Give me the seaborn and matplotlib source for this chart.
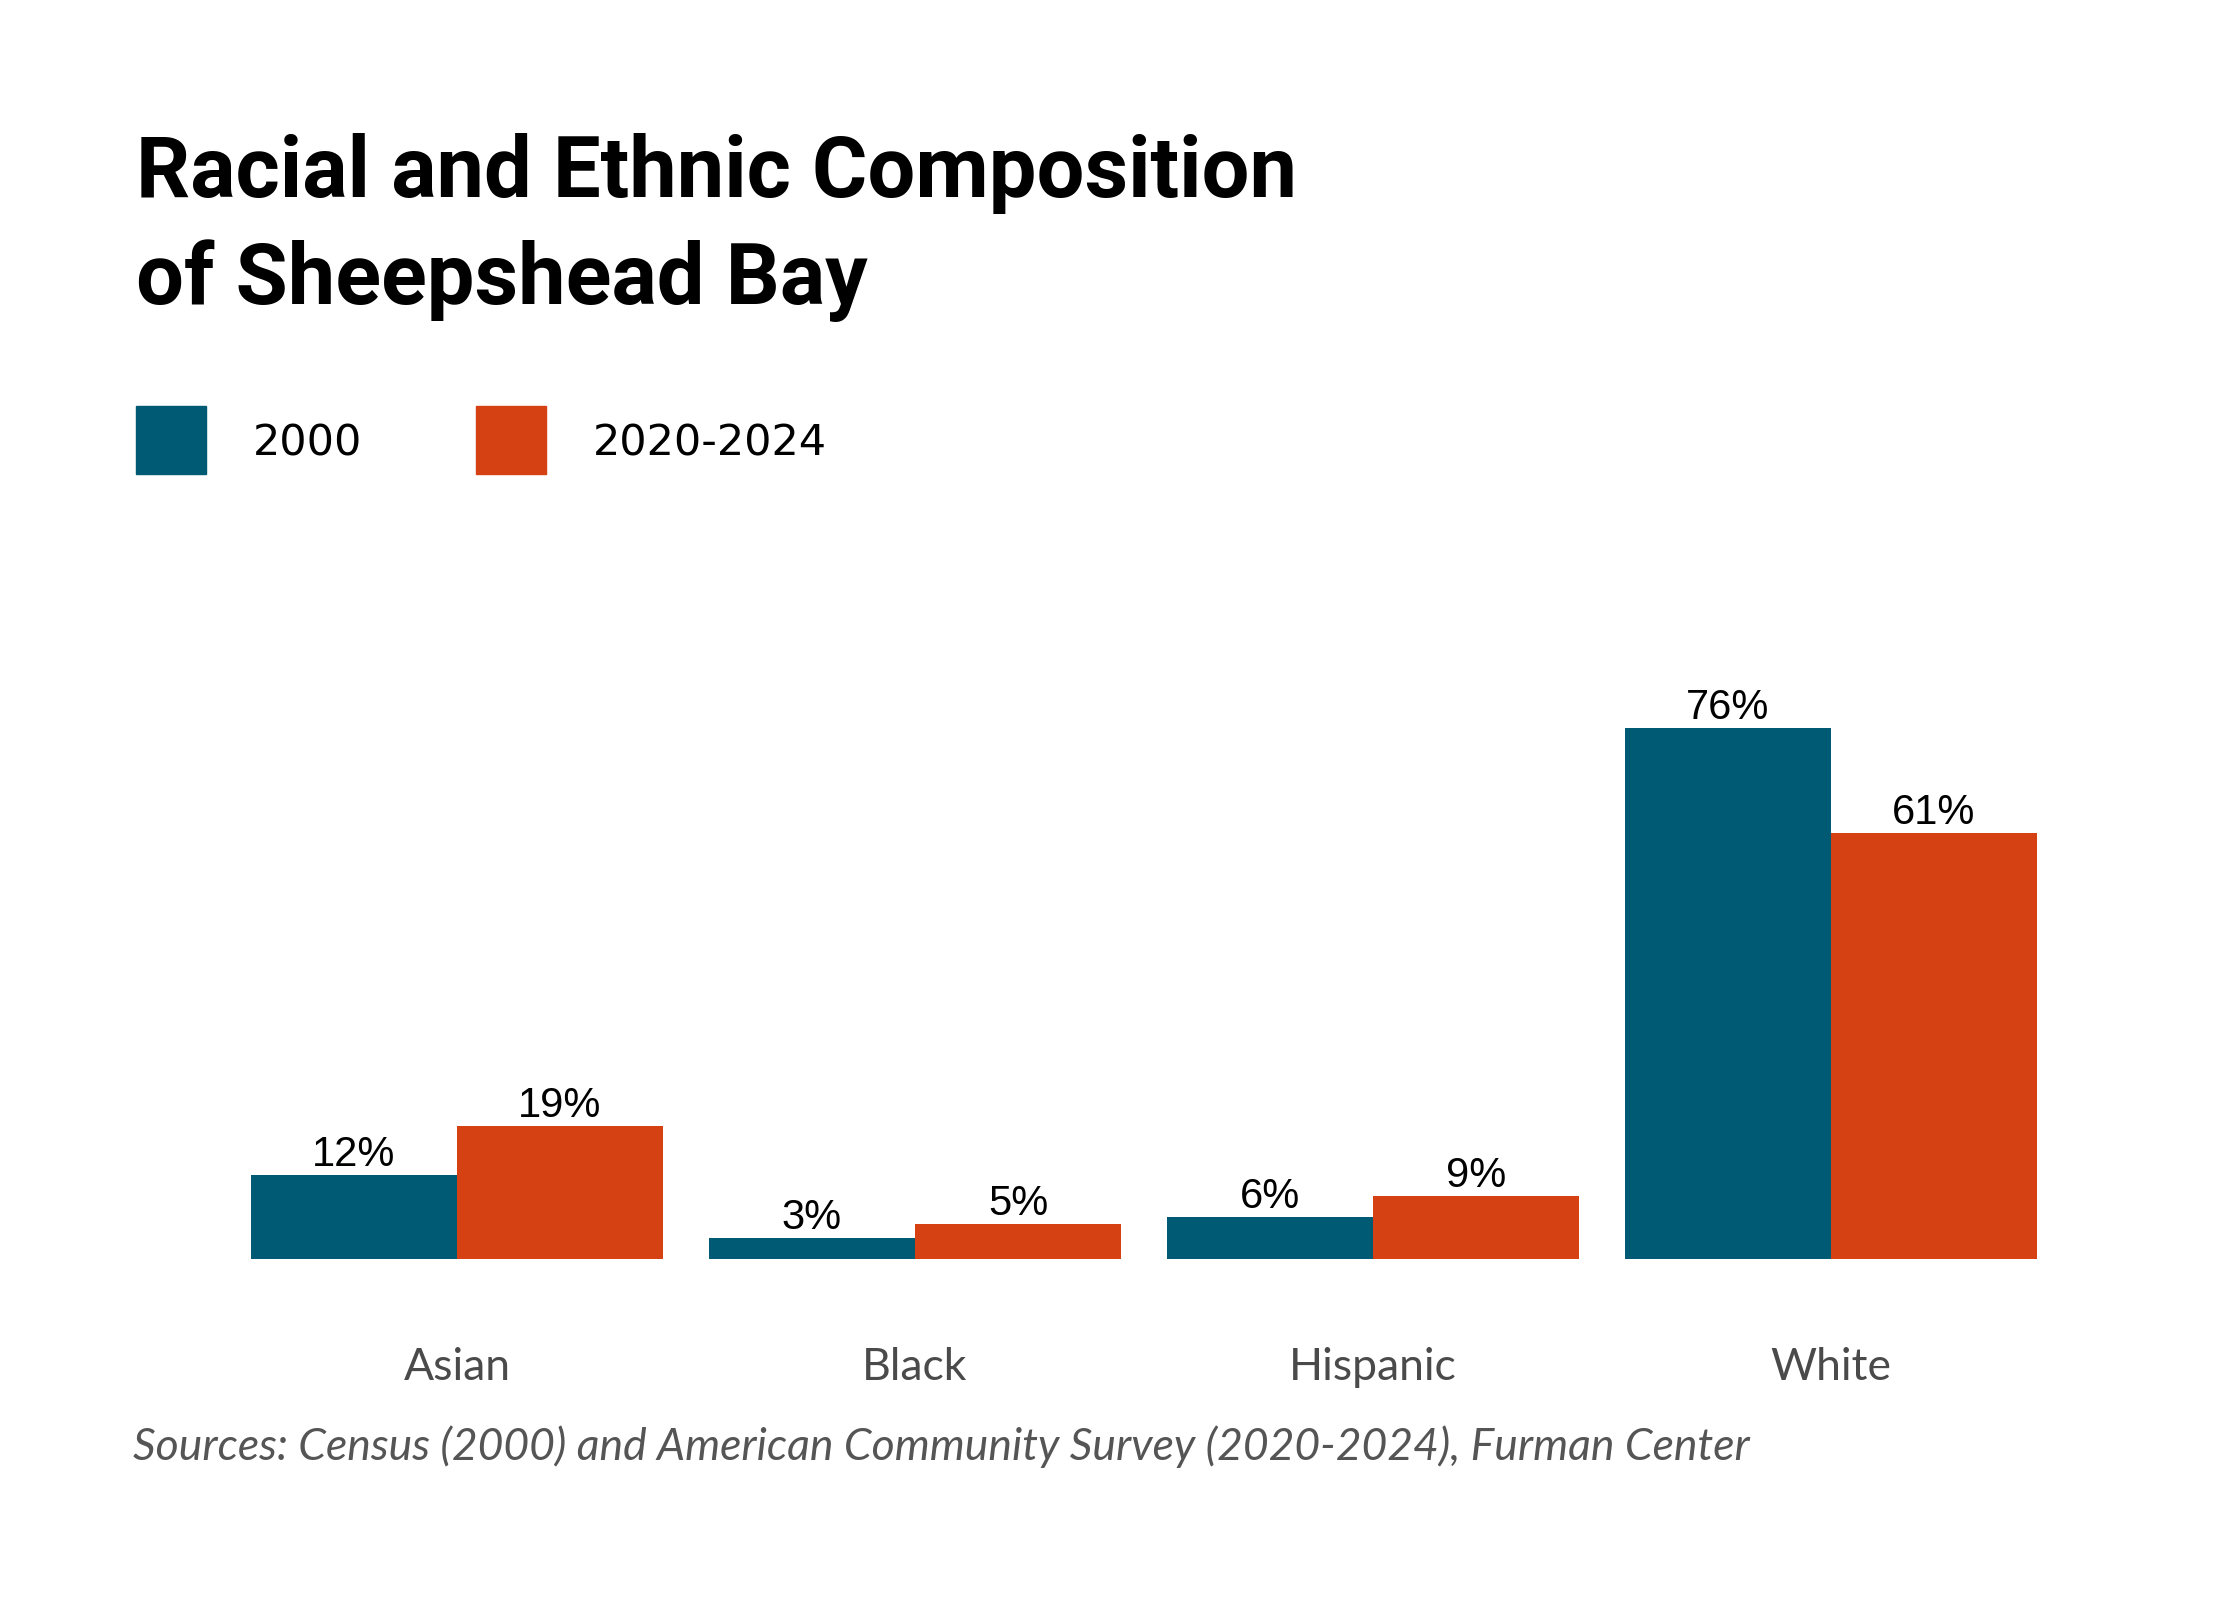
import pandas as pd
import seaborn as sns
import matplotlib.pyplot as plt
from matplotlib.patches import Rectangle

# Data
groups = ['Asian', 'Black', 'Hispanic', 'White']
years = ['2000', '2020-2024']
share_2000 = [12, 3, 6, 76]
share_2020 = [19, 5, 9, 61]
colors = {'2000': '#015a74', '2020-2024': '#d64113'}

title_lines = ['Racial and Ethnic Composition', 'of Sheepshead Bay']
source = 'Sources: Census (2000) and American Community Survey (2020-2024), Furman Center'

df = pd.DataFrame({
    'group': groups * 2,
    'year': [years[0]] * len(groups) + [years[1]] * len(groups),
    'share': share_2000 + share_2020,
})

sns.set_theme(style='white')
plt.rcParams['font.family'] = ['Lato', 'DejaVu Sans']

W, H = 2240, 1600
fig = plt.figure(figsize=(W / 100, H / 100), dpi=100)
fig.patch.set_facecolor('white')
ax = fig.add_axes([228 / W, 1 - 1259 / H, (2060 - 228) / W, 699 / H])

sns.barplot(data=df, x='group', y='share', hue='year', order=groups,
            hue_order=years, palette=colors, width=0.9, gap=0,
            saturation=1, legend=False, linewidth=0, ax=ax)

# Value labels
for cont in ax.containers:
    ax.bar_label(cont, labels=[f'{v:.0f}%' for v in cont.datavalues],
                 padding=0, fontsize=30, family='Liberation Sans', color='black')

ax.set_ylim(0, 100)
ax.set_xlim(-0.5, 3.5)
ax.set_xlabel('')
ax.set_ylabel('')
ax.set_yticks([])
sns.despine(ax=ax, left=True, bottom=True)
ax.tick_params(axis='x', length=0, pad=63, labelsize=32, labelcolor='#4a4a4a')

# Title
for i, line in enumerate(title_lines):
    fig.text(136 / W, 1 - (197 + 107 * i) / H, line, fontsize=61,
             fontweight='bold', family='Roboto', color='black', va='baseline')

# Legend
for i, yr in enumerate(years):
    x0 = [136, 476][i]
    fig.add_artist(Rectangle((x0 / W, 1 - 474 / H), 70 / W, 68 / H,
                             transform=fig.transFigure, color=colors[yr]))
    fig.text((x0 + 117) / W, 1 - 443 / H, yr, fontsize=31, color='black',
             family='DejaVu Sans', va='center')

# Source
fig.text(133 / W, 1 - 1447 / H, source, fontsize=32, style='italic',
         color='#555555', va='center')

fig.savefig('out.png', dpi=100, facecolor='white')
